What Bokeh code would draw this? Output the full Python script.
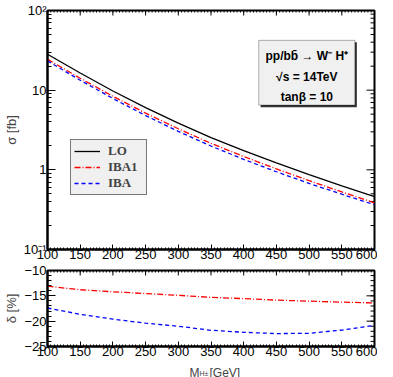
import math
from bokeh.plotting import figure
from bokeh.layouts import column
from bokeh.models import FixedTicker, Legend, LegendItem, Label, BoxAnnotation, Range1d
from bokeh.embed import file_html
from bokeh.resources import INLINE

# ---------------- data ----------------
mass = [100, 150, 200, 250, 300, 350, 400, 450, 500, 550, 600]
sigma_lo = [28.2, 16.4, 9.77, 6.03, 3.85, 2.54, 1.74, 1.22, 0.871, 0.631, 0.460]
sigma_iba1 = [24.5, 14.1, 8.38, 5.15, 3.28, 2.15, 1.47, 1.027, 0.731, 0.528, 0.385]
sigma_iba = [23.3, 13.34, 7.86, 4.80, 3.04, 1.99, 1.354, 0.946, 0.676, 0.494, 0.364]
delta_iba1 = [-13.1, -13.8, -14.2, -14.55, -14.9, -15.3, -15.55, -15.85, -16.05, -16.25, -16.4]
delta_iba = [-17.4, -18.65, -19.6, -20.4, -21.0, -21.8, -22.2, -22.45, -22.4, -21.75, -20.85]

x_ticks = [100, 150, 200, 250, 300, 350, 400, 450, 500, 550, 600]
x_minor = list(range(100, 601, 5))
sig_ticks = [0.1, 1, 10, 100]
sig_minor = [k * 10.0 ** e for e in (-1, 0, 1) for k in range(2, 10)]
sig_labels = {0.1: "10\u207b\u00b9", 1: "1", 10: "10", 100: "10\u00b2"}
del_ticks = [-25, -20, -15, -10]
del_minor = list(range(-25, -9))
del_labels = {-25: "\u221225", -20: "\u221220", -15: "\u221215", -10: "\u221210"}

FONT = "Liberation Sans"
SERIF = "Liberation Serif"


def style_axis(ax, major_in, minor_in):
    ax.major_tick_in = major_in
    ax.major_tick_out = 0
    ax.minor_tick_in = minor_in
    ax.minor_tick_out = 0
    ax.axis_line_color = "black"
    ax.axis_line_width = 2
    ax.major_tick_line_color = "black"
    ax.minor_tick_line_color = "black"
    ax.major_label_text_font = FONT
    ax.major_label_text_color = "black"
    ax.major_label_text_font_size = "13px"
    ax.major_label_standoff = 1


def mirror_ticks(p, xt, xm, yt, ym, x_far, y_far, xmaj, xmin, ymaj, ymin):
    # ticks on the top and right frame edges (ROOT style), drawn inward
    p.ray(x=xt, y=[y_far] * len(xt), length=xmaj, length_units="screen",
          angle=-math.pi / 2, line_color="black", line_width=1)
    p.ray(x=xm, y=[y_far] * len(xm), length=xmin, length_units="screen",
          angle=-math.pi / 2, line_color="black", line_width=1)
    p.ray(x=[x_far] * len(yt), y=yt, length=ymaj, length_units="screen",
          angle=math.pi, line_color="black", line_width=1)
    p.ray(x=[x_far] * len(ym), y=ym, length=ymin, length_units="screen",
          angle=math.pi, line_color="black", line_width=1)


# ---------------- top panel ----------------
p1 = figure(width=377, height=262, x_range=Range1d(100, 600), y_range=Range1d(0.1, 100),
            y_axis_type="log", output_backend="svg", toolbar_location=None,
            min_border_left=37, min_border_right=3, min_border_top=10, min_border_bottom=13)
p1.grid.visible = False
p1.outline_line_color = "black"
p1.outline_line_width = 2

p1.xaxis.ticker = FixedTicker(ticks=x_ticks, minor_ticks=x_minor)
style_axis(p1.xaxis[0], 5, 2)
p1.xaxis.major_label_standoff = 0
p1.yaxis.ticker = FixedTicker(ticks=sig_ticks, minor_ticks=sig_minor)
p1.yaxis.major_label_overrides = sig_labels
style_axis(p1.yaxis[0], 8, 4)
p1.yaxis.axis_label = "\u03c3 [fb]"
p1.yaxis.axis_label_text_font = FONT
p1.yaxis.axis_label_text_font_style = "normal"
p1.yaxis.axis_label_text_font_size = "13px"
p1.yaxis.axis_label_standoff = 2

mirror_ticks(p1, x_ticks, x_minor, sig_ticks, sig_minor, 600, 100, 5, 2, 8, 4)

r_lo = p1.line(mass, sigma_lo, line_color="black", line_width=1.3)
r_iba1 = p1.line(mass, sigma_iba1, line_color="#ff0000", line_width=1.3, line_dash="6 2 1 2")
r_iba = p1.line(mass, sigma_iba, line_color="#0000ff", line_width=1.3, line_dash="4 3")

legend = Legend(items=[LegendItem(label="LO", renderers=[r_lo]),
                       LegendItem(label="IBA1", renderers=[r_iba1]),
                       LegendItem(label="IBA", renderers=[r_iba])],
                location=(23, 54), margin=0, padding=3, spacing=0,
                glyph_width=26, glyph_height=16, label_height=16, label_width=35,
                label_standoff=8,
                label_text_font=SERIF, label_text_font_style="bold",
                label_text_font_size="13px",
                background_fill_color="#f0f0f0", background_fill_alpha=1,
                border_line_color="black", border_line_width=1)
p1.add_layout(legend)

# info box (positions in data units of the top panel)
shadow = BoxAnnotation(left=426, right=573, top=40.0, bottom=6.1,
                       fill_color="#333333", fill_alpha=1, line_color=None)
box = BoxAnnotation(left=423, right=570, top=42.2, bottom=6.49,
                    fill_color="#f0f0f0", fill_alpha=1, line_color="black", line_width=1)
p1.add_layout(shadow)
p1.add_layout(box)
for txt, yy in [("pp/bb\u0304 \u2192 W\u207b H\u207a", 26.6),
                ("\u221as = 14TeV", 14.5),
                ("tan\u03b2 = 10", 8.17)]:
    p1.add_layout(Label(x=496.5, y=yy, text=txt, text_align="center", text_baseline="middle",
                        text_font=FONT, text_font_style="bold", text_font_size="12px",
                        text_color="black"))

# ---------------- bottom panel ----------------
p2 = figure(width=377, height=99, x_range=p1.x_range, y_range=Range1d(-25, -10),
            output_backend="svg", toolbar_location=None,
            min_border_left=37, min_border_right=3, min_border_top=8, min_border_bottom=15)
p2.grid.visible = False
p2.outline_line_color = "black"
p2.outline_line_width = 2

p2.xaxis.ticker = FixedTicker(ticks=x_ticks, minor_ticks=x_minor)
style_axis(p2.xaxis[0], 5, 2)
p2.xaxis.major_label_standoff = 0
p2.yaxis.ticker = FixedTicker(ticks=del_ticks, minor_ticks=del_minor)
p2.yaxis.major_label_overrides = del_labels
style_axis(p2.yaxis[0], 8, 4)
p2.yaxis.axis_label = "\u03b4 [%]"
p2.yaxis.axis_label_text_font = FONT
p2.yaxis.axis_label_text_font_style = "normal"
p2.yaxis.axis_label_text_font_size = "13px"
p2.yaxis.axis_label_standoff = 2

mirror_ticks(p2, x_ticks, x_minor, del_ticks, del_minor, 600, -10, 5, 2, 8, 4)

p2.line(mass, delta_iba1, line_color="#ff0000", line_width=1.3, line_dash="6 2 1 2")
p2.line(mass, delta_iba, line_color="#0000ff", line_width=1.3, line_dash="4 3")

# ---------------- x axis title strip: M_{H±} [GeV] ----------------
# a thin strip with no title and no axes, aligned with the panels above;
# text offsets are in screen pixels from the strip frame's bottom-left
p3 = figure(width=377, height=16, title=None, x_range=Range1d(0, 1), y_range=Range1d(0, 1),
            x_axis_location=None, y_axis_location=None,
            output_backend="svg", toolbar_location=None,
            min_border_left=37, min_border_right=3, min_border_top=0, min_border_bottom=0)
p3.grid.visible = False
p3.outline_line_color = None
p3.add_layout(Label(x=142, y=5, x_units="screen", y_units="screen", text="M",
                    text_font=FONT, text_font_size="12px", text_baseline="alphabetic"))
p3.add_layout(Label(x=152, y=4, x_units="screen", y_units="screen", text="H\u00b1",
                    text_font=FONT, text_font_size="7px", text_baseline="alphabetic"))
p3.add_layout(Label(x=162, y=5, x_units="screen", y_units="screen", text="[GeV]",
                    text_font=FONT, text_font_size="12px", text_baseline="alphabetic"))

layout = column(p1, p2, p3, spacing=0)
open("out.html", "w").write(file_html(layout, INLINE))
